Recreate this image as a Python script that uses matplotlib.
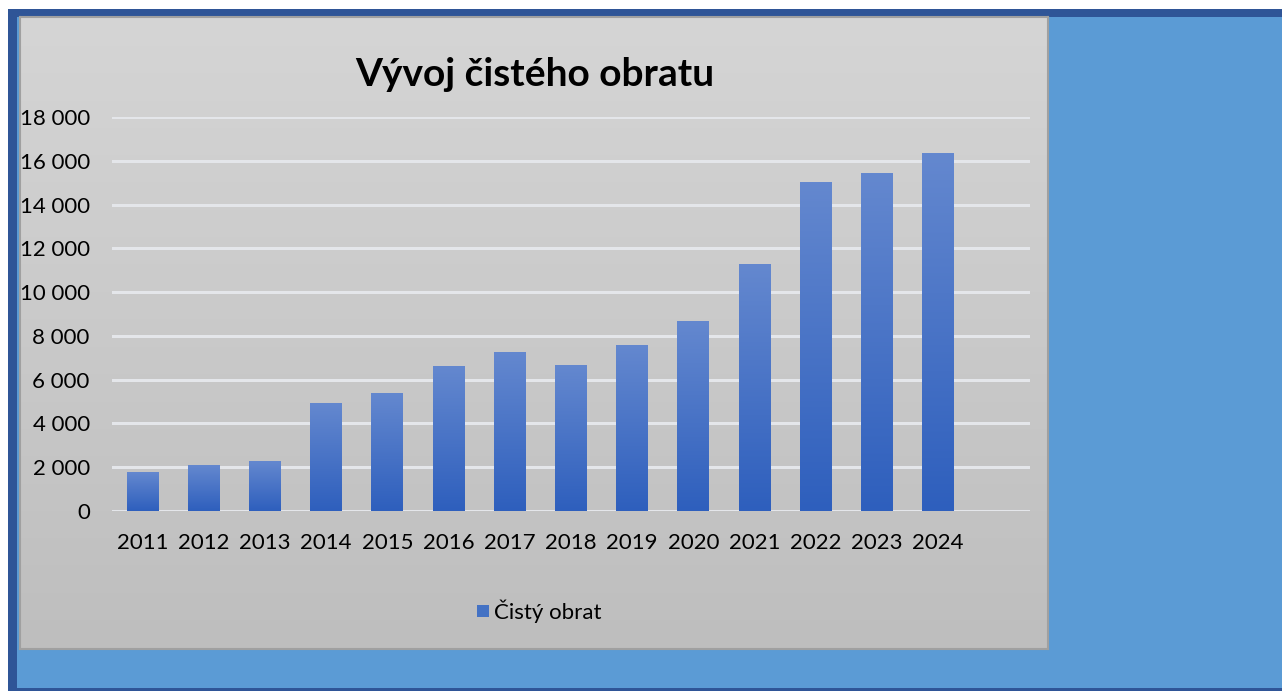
import matplotlib
matplotlib.use("Agg")
import matplotlib.pyplot as plt
import numpy as np
from matplotlib.patches import Rectangle
from matplotlib.colors import LinearSegmentedColormap

years = ["2011", "2012", "2013", "2014", "2015", "2016", "2017",
         "2018", "2019", "2020", "2021", "2022", "2023", "2024"]
values = [1780, 2060, 2240, 4890, 5390, 6620, 7260,
          6670, 7580, 8640, 11240, 15030, 15440, 16310]
yticks = [0, 2000, 4000, 6000, 8000, 10000, 12000, 14000, 16000, 18000]
ytick_labels = ["0", "2 000", "4 000", "6 000", "8 000", "10 000",
                "12 000", "14 000", "16 000", "18 000"]
title = "Vývoj čistého obratu"
series_name = "Čistý obrat"

W, H = 1282, 691
plt.rcParams['font.family'] = ['Lato', 'DejaVu Sans']
fig = plt.figure(figsize=(W / 100, H / 100), dpi=100)
fig.patch.set_facecolor("white")

def fx(x):
    return x / W

def fy(y):
    return 1 - y / H

# outer frames
fig.patches.append(Rectangle((fx(8), 0), fx(W - 8), fy(9),
                             transform=fig.transFigure, facecolor="#2F5597", edgecolor="none", zorder=0))
fig.patches.append(Rectangle((fx(17), fy(688)), fx(W - 17), fy(17) - fy(688),
                             transform=fig.transFigure, facecolor="#5B9BD5", edgecolor="none", zorder=0))

# gray panel with vertical gradient
bg = fig.add_axes([fx(20), fy(649), fx(1048 - 20), fy(17) - fy(649)], zorder=1)
grad = np.linspace(0, 1, 256).reshape(-1, 1)
panel_cmap = LinearSegmentedColormap.from_list("panel", ["#D5D5D5", "#BEBEBE"])
bg.imshow(grad, aspect="auto", cmap=panel_cmap, extent=(0, 1, 1, 0))
bg.set_xlim(0, 1)
bg.set_ylim(1, 0)
bg.set_xticks([])
bg.set_yticks([])
for s in bg.spines.values():
    s.set_color("#A0A0A0")
    s.set_linewidth(1.5)

# main axes
ax = fig.add_axes([fx(112), fy(511), fx(1030 - 112), fy(117) - fy(511)], zorder=2)
ax.set_facecolor("none")
for s in ax.spines.values():
    s.set_visible(False)
ax.set_yticks(yticks)
ax.set_yticklabels(ytick_labels)
ax.yaxis.grid(True, color="#E4E6EA", linewidth=2.2, zorder=0)
ax.set_axisbelow(True)
ax.tick_params(axis="both", length=0, labelsize=16, colors="#000000")
ax.tick_params(axis="y", pad=16)
ax.tick_params(axis="x", pad=16)
x = np.arange(len(years))
ax.set_xticks(x)
ax.set_xticklabels(years)

bar_cmap = LinearSegmentedColormap.from_list("bar", ["#2E5FBD", "#6488CF"])
bw = 0.52
bars = ax.bar(x, values, width=bw, color="none", edgecolor="none", zorder=3)
for b in bars:
    x0 = b.get_x()
    h = b.get_height()
    ax.imshow(grad, aspect="auto", cmap=bar_cmap, origin="lower",
              extent=(x0, x0 + bw, 0, h), zorder=3)
ax.set_xlim(-0.5, 14.5)
ax.set_ylim(0, 18000)

fig.text(fx(535), fy(75), title, ha="center", va="center",
         fontsize=28, fontweight="bold", color="#000000", zorder=5)

# legend
fig.patches.append(Rectangle((fx(477), fy(617)), fx(12), fy(605) - fy(617),
                             transform=fig.transFigure, facecolor="#4472C4",
                             edgecolor="none", zorder=5))
fig.text(fx(494), fy(611), series_name, ha="left", va="center",
         fontsize=16, color="#000000", zorder=5)

fig.savefig("out.png", dpi=100)
